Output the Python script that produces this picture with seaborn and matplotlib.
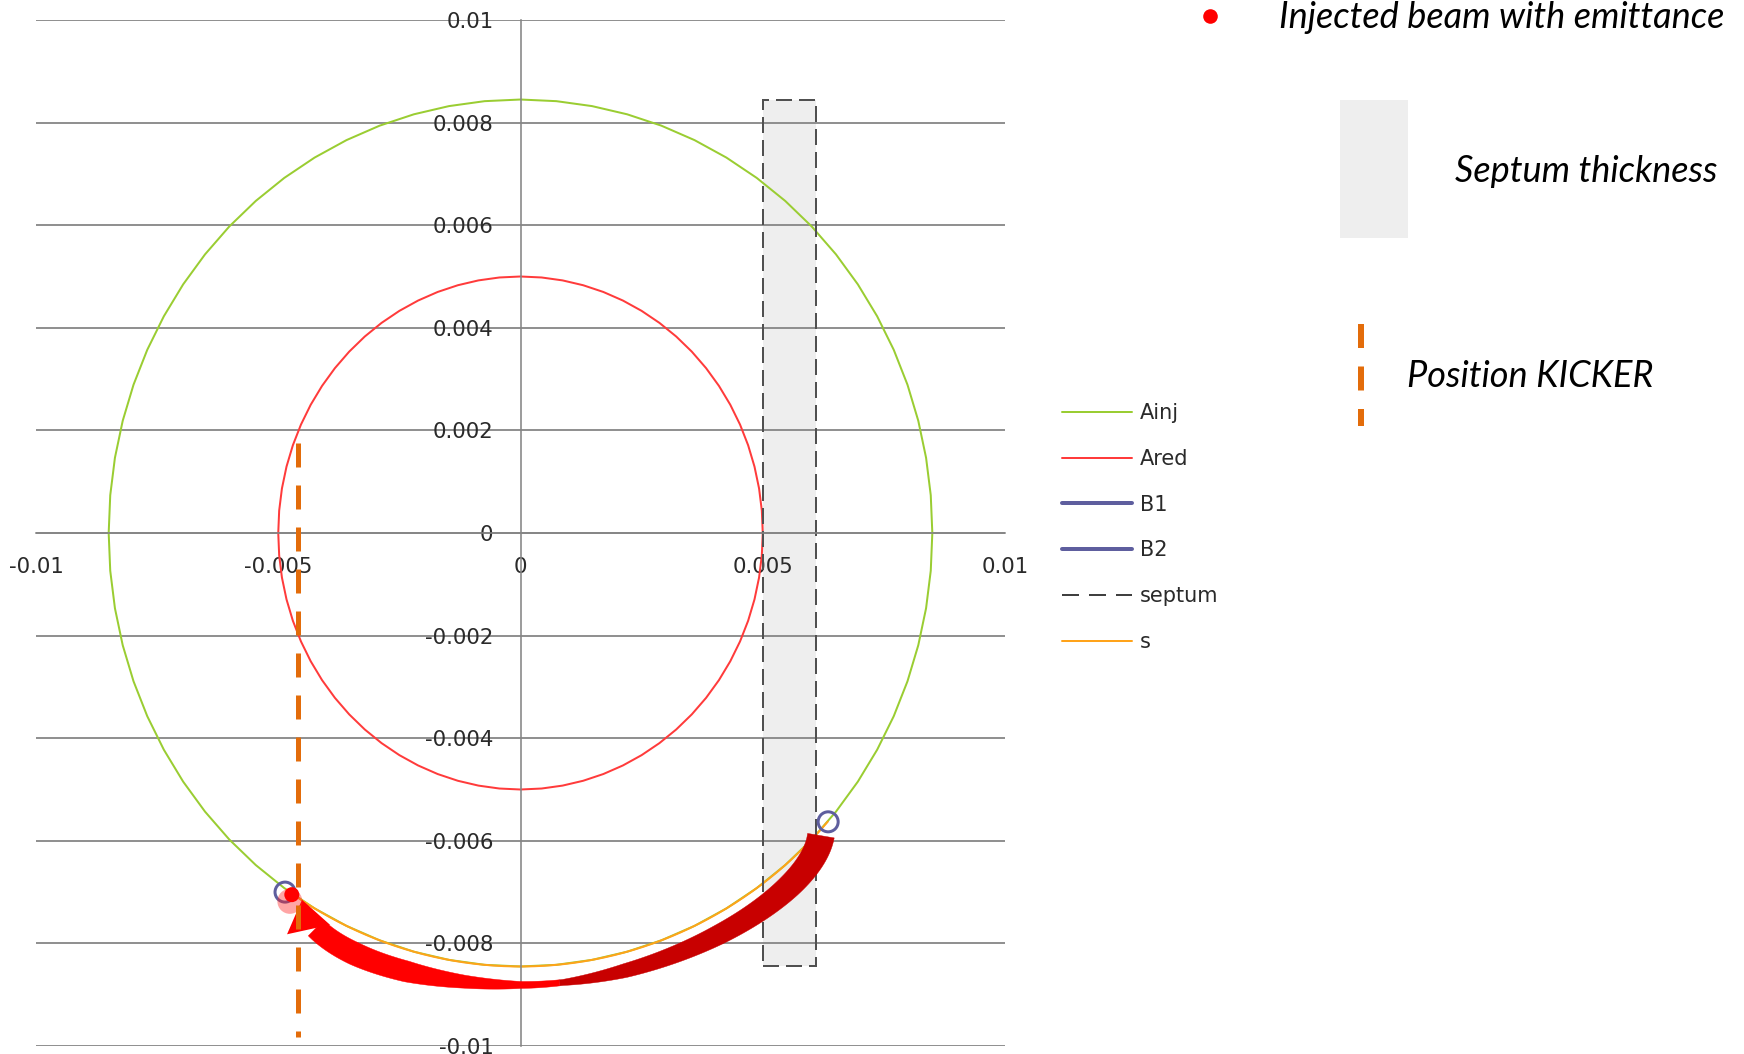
import numpy as np
import matplotlib
matplotlib.use("Agg")
import matplotlib.pyplot as plt
from matplotlib.lines import Line2D
from matplotlib.patches import Polygon, Rectangle
import seaborn as sns

# ---- data (metres) -------------------------------------------------------
A_INJ_X = 0.0085        # injection acceptance, horizontal half-axis
A_INJ_Y = 0.00845       # injection acceptance, vertical half-axis
A_RED = 0.005           # reduced acceptance radius
SEPTUM_X = [0.005, 0.0061]
SEPTUM_Y = [-0.00845, 0.00845]
B1 = [0.00635, -0.00563]        # beam just outside the septum
B2 = [-0.00486, -0.00700]       # beam at the kicker
INJ_BEAM = [-0.00472, -0.00705]
INJ_EMIT = [-0.00476, -0.00718]
KICKER_X = -0.0046
KICKER_Y = [0.00176, -0.00983]

X_TICKS = [-0.01, -0.005, 0.0, 0.005, 0.01]
X_TICK_LABELS = ["-0.01", "-0.005", "0", "0.005", "0.01"]
Y_TICKS = [0.01, 0.008, 0.006, 0.004, 0.002, 0.0,
           -0.002, -0.004, -0.006, -0.008, -0.01]
Y_TICK_LABELS = ["0.01", "0.008", "0.006", "0.004", "0.002", "0",
                 "-0.002", "-0.004", "-0.006", "-0.008", "-0.01"]
LEGEND_LABELS = ["Ainj", "Ared", "B1", "B2", "septum", "s"]

# curved kick arrow: two cubic Bezier pieces (data units) with thickness profiles (px)
ARROW_RIGHT = [[0.0062, -0.0059], [0.0060, -0.00715],
               [0.00288, -0.00881], [0.0, -0.00881]]
ARROW_LEFT = [[0.0, -0.00881], [-0.00146, -0.00881],
              [-0.0034, -0.00848], [-0.00422, -0.0077]]
ARROW_RIGHT_T = [0.0, 0.25, 0.5, 0.75, 0.9, 1.0]
ARROW_RIGHT_W = [27, 24, 20, 14, 6, 7]
ARROW_LEFT_T = [0.0, 0.25, 0.5, 0.75, 1.0]
ARROW_LEFT_W = [7, 13, 21, 23, 22]
ARROW_TWIST = 0.9                 # where the ribbon shows its back face
ARROW_TIP = [-0.00451, -0.00715]
ARROW_HEAD_BASE = [-0.004375, -0.00773]
ARROW_HEAD_HALF = 22

GREEN = "#9ACD32"
RED = "#FF3B3B"
PURPLE = "#5E5E9E"
ORANGE = "#FFA31A"
KICK_ORANGE = "#E36C0A"
GRID = "#858585"
TXT = "#2A2A2A"

# ---- figure ----------------------------------------------------------------
W, H, DPI = 1744, 1054, 100
sns.set_theme(style="white")
plt.rcParams["font.family"] = ["DejaVu Sans"]
plt.rcParams["lines.scale_dashes"] = False
PX = 72.0 / DPI   # points per pixel

fig = plt.figure(figsize=(W / DPI, H / DPI), dpi=DPI)
fig.patch.set_facecolor("white")
ax = fig.add_axes([36 / W, 8 / H, 969 / W, 1026 / H])
ax.set_xlim(-0.01, 0.01)
ax.set_ylim(-0.01, 0.01)
ax.set_facecolor("none")

# axes styling: cross through the origin, horizontal grid only
for side in ("top", "right"):
    ax.spines[side].set_visible(False)
ax.spines["left"].set_position(("data", 0))
ax.spines["bottom"].set_position(("data", 0))
for side in ("left", "bottom"):
    ax.spines[side].set_color(GRID)
    ax.spines[side].set_linewidth(1.6 * PX)
ax.set_axisbelow(True)
ax.yaxis.grid(True, color=GRID, linewidth=1.8 * PX)
ax.xaxis.grid(False)

ax.set_xticks(X_TICKS, labels=X_TICK_LABELS)
ax.set_yticks(Y_TICKS, labels=Y_TICK_LABELS)
ax.set_xticks([X_TICKS[0], X_TICKS[-1]], minor=True)
ax.tick_params(axis="x", which="major", length=0, pad=24 * PX,
               labelsize=15.3, labelcolor=TXT)
ax.tick_params(axis="x", which="minor", length=7 * PX, width=1.6 * PX,
               color=GRID, direction="out")
ax.tick_params(axis="y", which="major", length=0, pad=27 * PX,
               labelsize=15.3, labelcolor=TXT)

# septum blade
sept_w = SEPTUM_X[1] - SEPTUM_X[0]
sept_h = SEPTUM_Y[1] - SEPTUM_Y[0]
ax.add_patch(Rectangle((SEPTUM_X[0], SEPTUM_Y[0]), sept_w, sept_h,
                       facecolor="#EEEEEE", edgecolor="none", zorder=0.3))
ax.add_patch(Rectangle((SEPTUM_X[0], SEPTUM_Y[0]), sept_w, sept_h, fill=False,
                       edgecolor="#505050", linewidth=2 * PX,
                       linestyle=(0, (16 * PX, 7 * PX)), zorder=2.2))

# acceptance curves
theta = np.linspace(0, 2 * np.pi, 73)
sns.lineplot(x=A_INJ_X * np.cos(theta), y=A_INJ_Y * np.sin(theta), sort=False,
             estimator=None, color=GREEN, linewidth=2 * PX, ax=ax, zorder=2)
sns.lineplot(x=A_RED * np.cos(theta), y=A_RED * np.sin(theta), sort=False,
             estimator=None, color=RED, linewidth=2 * PX, ax=ax, zorder=2)

# trajectory s from B1 to B2 along the acceptance
a1 = np.arctan2(B1[1] / A_INJ_Y, B1[0] / A_INJ_X)
a2 = np.arctan2(B2[1] / A_INJ_Y, B2[0] / A_INJ_X)
phi = np.linspace(a1, a2, 60)
sns.lineplot(x=A_INJ_X * np.cos(phi), y=A_INJ_Y * np.sin(phi), sort=False,
             estimator=None, color=ORANGE, linewidth=2 * PX, ax=ax, zorder=2.1)

# kicker position
ax.plot([KICKER_X, KICKER_X], KICKER_Y, color=KICK_ORANGE,
        linewidth=5 * PX, linestyle=(0, (24 * PX, 18 * PX)),
        solid_capstyle="butt", dash_capstyle="butt", zorder=6)


# curved kick arrow, built in display space
def ribbon(ctrl_data, tk, wk, n=120):
    ctrl = ax.transData.transform(np.array(ctrl_data))
    t = np.linspace(0, 1, n)
    b = np.stack([(1 - t) ** 3, 3 * (1 - t) ** 2 * t,
                  3 * (1 - t) * t ** 2, t ** 3], axis=1)
    c = b @ ctrl
    d = np.gradient(c, axis=0)
    nrm = np.stack([-d[:, 1], d[:, 0]], axis=1)
    nrm /= np.linalg.norm(nrm, axis=1, keepdims=True)
    half = np.interp(t, tk, wk)[:, None] / 2.0
    return t, c + nrm * half, c - nrm * half


inv = ax.transData.inverted()


def add_band(ea, eb, color):
    poly = np.vstack([ea, eb[::-1]])
    ax.add_patch(Polygon(inv.transform(poly), closed=True, facecolor=color,
                         edgecolor=color, linewidth=0.3, zorder=3))


tr, ra, rb = ribbon(ARROW_RIGHT, ARROW_RIGHT_T, ARROW_RIGHT_W)
back = tr <= ARROW_TWIST + 0.01
front = tr >= ARROW_TWIST
add_band(ra[back], rb[back], "#C80000")
tl, la, lb = ribbon(ARROW_LEFT, ARROW_LEFT_T, ARROW_LEFT_W)
add_band(np.vstack([ra[front], la]), np.vstack([rb[front], lb]), "#FF0000")

tip = ax.transData.transform(np.array(ARROW_TIP))
base = ax.transData.transform(np.array(ARROW_HEAD_BASE))
axis_v = (tip - base) / np.linalg.norm(tip - base)
perp = np.array([-axis_v[1], axis_v[0]])
head = np.array([base + perp * ARROW_HEAD_HALF, tip, base - perp * ARROW_HEAD_HALF])
ax.add_patch(Polygon(inv.transform(head), closed=True, facecolor="#FF0000",
                     edgecolor="none", zorder=3))

# beam markers
sns.scatterplot(x=[B1[0], B2[0]], y=[B1[1], B2[1]], s=(20 * PX) ** 2,
                facecolor="none", edgecolor=PURPLE, linewidth=3 * PX,
                ax=ax, zorder=4)
sns.scatterplot(x=[INJ_EMIT[0]], y=[INJ_EMIT[1]], s=(25 * PX) ** 2,
                color="#FF2020", alpha=0.4, edgecolor="none", ax=ax, zorder=4.5)
sns.scatterplot(x=[INJ_BEAM[0]], y=[INJ_BEAM[1]], s=(15 * PX) ** 2,
                color="#FF0000", edgecolor="none", ax=ax, zorder=5)
ax.set_xlabel("")
ax.set_ylabel("")

# legend
handles = [
    Line2D([], [], color=GREEN, linewidth=2 * PX),
    Line2D([], [], color=RED, linewidth=2 * PX),
    Line2D([], [], color=PURPLE, linewidth=4 * PX),
    Line2D([], [], color=PURPLE, linewidth=4 * PX),
    Line2D([], [], color="#404040", linewidth=2 * PX,
           linestyle=(0, (17 * PX, 10 * PX))),
    Line2D([], [], color=ORANGE, linewidth=2 * PX),
]
leg = ax.legend(handles, LEGEND_LABELS, loc="upper left",
                bbox_to_anchor=(1062 / W, 1 - 403 / H),
                bbox_transform=fig.transFigure, frameon=False,
                borderpad=0, borderaxespad=0, fontsize=15,
                handlelength=3.37, handletextpad=0.38, labelspacing=1.24)
for txt in leg.get_texts():
    txt.set_color(TXT)

# key on the right, laid out in pixel space
kx = fig.add_axes([0, 0, 1, 1], zorder=5)
kx.set_xlim(0, W)
kx.set_ylim(H, 0)
kx.axis("off")
kx.plot([1210], [16], marker="o", markersize=14.6 * PX, color="#FF0000",
        markeredgewidth=0)
kx.add_patch(Rectangle((1340, 100), 68, 138, facecolor="#EEEEEE", edgecolor="none"))
kx.plot([1360.6, 1360.6], [324, 426], color=KICK_ORANGE, linewidth=6 * PX,
        linestyle=(0, (24 * PX, 18.5 * PX)), dash_capstyle="butt")
key_font = dict(family=["Lato", "DejaVu Sans"], style="italic", fontsize=26,
                color="black", va="baseline", ha="left")
kx.text(1279, 28.5, "Injected beam with emittance", **key_font)
kx.text(1455, 181.5, "Septum thickness", **key_font)
kx.text(1407, 387, "Position KICKER", **key_font)

fig.savefig("out.png", dpi=DPI, facecolor="white")
